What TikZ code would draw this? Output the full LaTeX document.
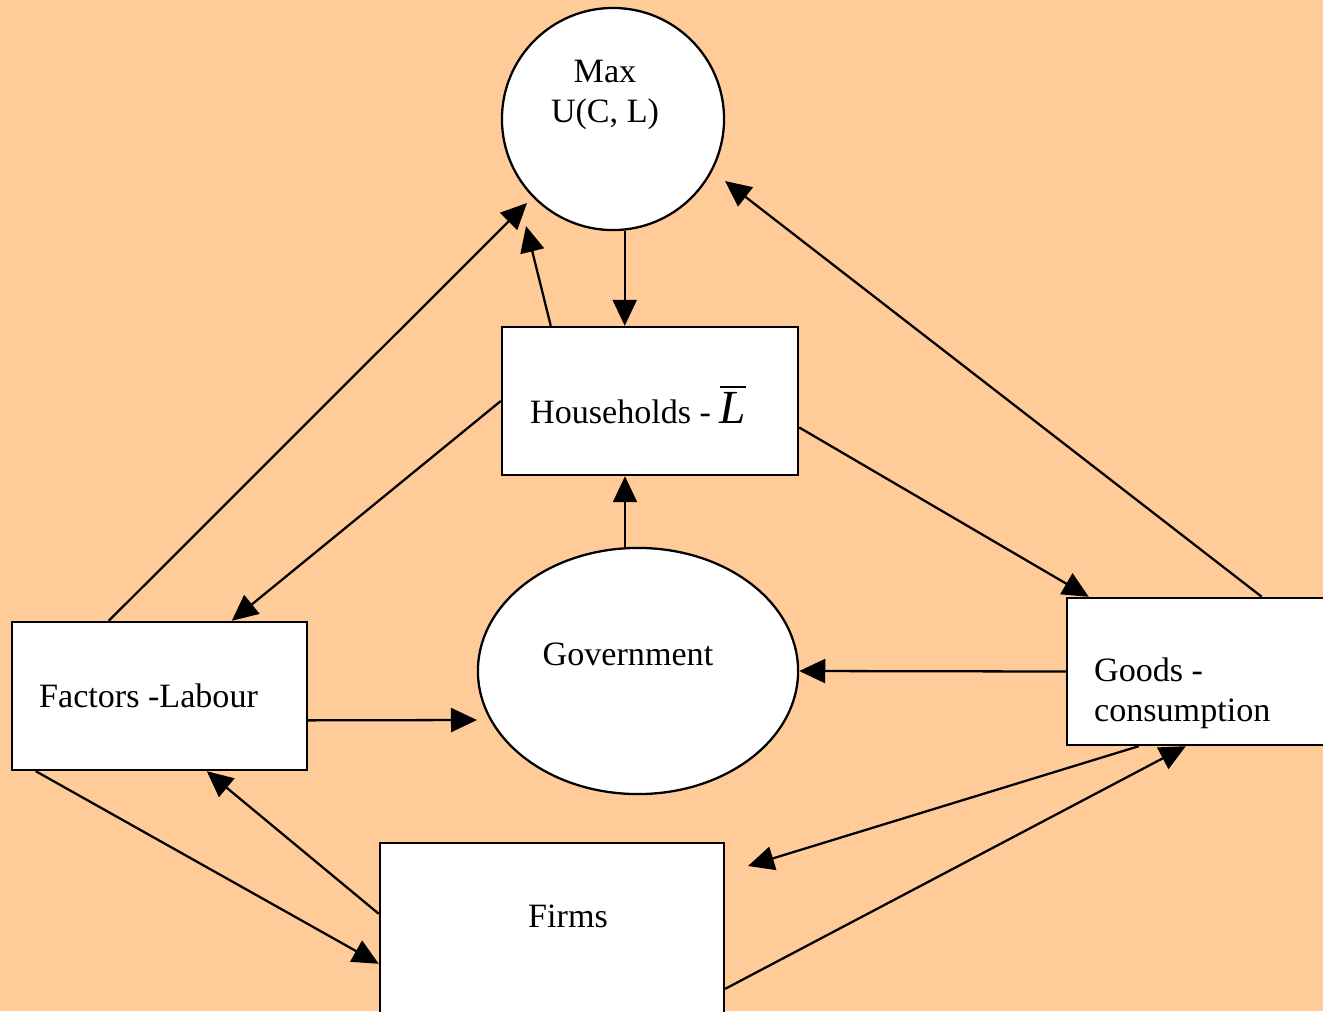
\documentclass[tikz,border=0pt]{standalone}
\usepackage{fontspec}
\setmainfont{Liberation Serif}
\usetikzlibrary{arrows.meta,positioning,calc,shapes.geometric}
\definecolor{bgPeach}{HTML}{FFCC99}

\begin{document}
\begin{tikzpicture}[x=0.01cm,y=-0.01cm,
  font=\fontsize{9.7}{11.4}\selectfont,
  line width=0.65pt,
  box/.style={draw, fill=white, rectangle, inner sep=0pt},
  circ/.style={draw, fill=white, circle, inner sep=0pt},
  bubble/.style={draw, fill=white, ellipse, inner sep=0pt},
  txt/.style={inner sep=0pt, align=left},
  arr/.style={-{Triangle[length=0.26cm,width=0.24cm]}}]
\useasboundingbox (0,0) rectangle (1323,1011);
\fill[bgPeach] (0,0) rectangle (1323,1011);
\clip (0,0) rectangle (1323,1011);
% shapes
\node[circ, minimum size=2.22cm] (maxc) at (613,119) {};
\node[box, minimum width=2.96cm, minimum height=1.48cm] (hh) at (650,401) {};
\node[bubble, minimum width=3.20cm, minimum height=2.46cm] (gov) at (638,671) {};
\node[box, minimum width=2.95cm, minimum height=1.48cm] (fac) at (159.5,696) {};
\node[box, minimum width=2.80cm, minimum height=1.47cm] (goods) at (1207,671.5) {};
\node[box, minimum width=3.44cm, minimum height=2.00cm] (firms) at (552,943) {};
% labels
\node[txt, align=center] (maxt) at (605,95) {Max\\U(C, L)};
\node[txt, anchor=base west] (hht) at (529,423)
  {Households - $\overline{\hbox{\fontsize{13.5}{14}\selectfont\itshape L}}$};
\node[txt, anchor=base] (govt) at (628,665) {Government};
\node[txt, anchor=base west] (fact) at (38,707) {Factors -Labour};
\node[txt, anchor=west] (goodst) at (1093,693) {Goods -\\consumption};
\node[txt, anchor=base] (firmst) at (568,927) {Firms};
% free arrow ends
\coordinate (tipA) at (527,203);
\coordinate (tipB) at (526,226);
\coordinate (tipC) at (725,181);
\coordinate (tipD) at (477,720);
\coordinate (tipE) at (748,866);
\coordinate (govtop) at ($(gov.north)+(-13,0)$);
% flows
\draw[arr] ($(fac.north west)+(98,0)$) -- (tipA);
\draw[arr] ($(hh.north west)+(50,0)$) -- (tipB);
\draw[arr] (maxc.-84) -- (maxc.-84 |- hh.north);
\draw[arr] (govtop) -- (govtop |- hh.south);
\draw[arr] ($(goods.north west)+(196,0)$) -- (tipC);
\draw[arr] ($(hh.north east)!0.676!(hh.south east)$) -- ($(goods.north west)+(23,0)$);
\draw[arr] (hh.west) -- ($(fac.north west)+(221,0)$);
\draw[arr] ($(fac.north east)!0.662!(fac.south east)$) -- (tipD);
\draw[arr] (goods.west) -- (gov.east);
\draw[arr] ($(goods.south west)+(73,0)$) -- (tipE);
\draw[arr] ($(firms.north east)+(0,147)$) -- ($(goods.south west)+(120,0)$);
\draw[arr] ($(firms.north west)+(0,72)$) -- ($(fac.south west)+(196,0)$);
\draw[arr] ($(fac.south west)+(25,0)$) -- ($(firms.north west)+(0,122)$);
\end{tikzpicture}
\end{document}
